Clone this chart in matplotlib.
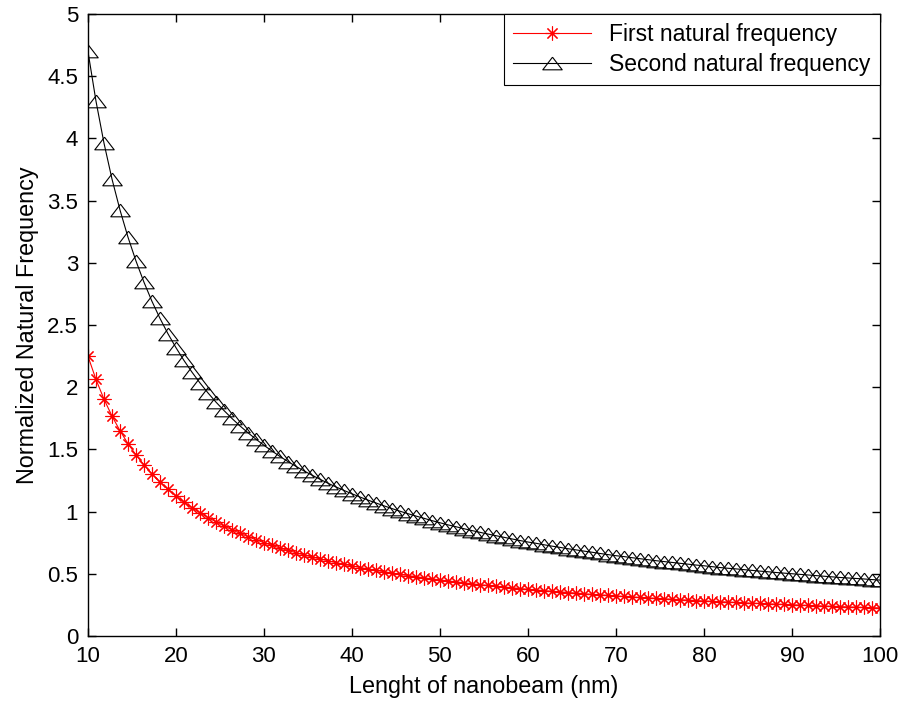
import matplotlib
matplotlib.use("Agg")
import matplotlib.pyplot as plt

plt.rcParams["font.family"] = ["Liberation Sans", "DejaVu Sans"]

# nanobeam length (nm), 100 samples between 10 and 100
length_nm = [
    10.00, 10.91, 11.82, 12.73, 13.64, 14.55, 15.45, 16.36, 17.27, 18.18, 19.09,
    20.00, 20.91, 21.82, 22.73, 23.64, 24.55, 25.45, 26.36, 27.27, 28.18, 29.09,
    30.00, 30.91, 31.82, 32.73, 33.64, 34.55, 35.45, 36.36, 37.27, 38.18, 39.09,
    40.00, 40.91, 41.82, 42.73, 43.64, 44.55, 45.45, 46.36, 47.27, 48.18, 49.09,
    50.00, 50.91, 51.82, 52.73, 53.64, 54.55, 55.45, 56.36, 57.27, 58.18, 59.09,
    60.00, 60.91, 61.82, 62.73, 63.64, 64.55, 65.45, 66.36, 67.27, 68.18, 69.09,
    70.00, 70.91, 71.82, 72.73, 73.64, 74.55, 75.45, 76.36, 77.27, 78.18, 79.09,
    80.00, 80.91, 81.82, 82.73, 83.64, 84.55, 85.45, 86.36, 87.27, 88.18, 89.09,
    90.00, 90.91, 91.82, 92.73, 93.64, 94.55, 95.45, 96.36, 97.27, 98.18, 99.09,
    100.00,
]

first_freq = [
    2.250, 2.062, 1.904, 1.768, 1.650, 1.546, 1.456, 1.375, 1.303, 1.238, 1.179,
    1.125, 1.076, 1.031, 0.990, 0.952, 0.917, 0.884, 0.854, 0.825, 0.798, 0.773,
    0.750, 0.728, 0.707, 0.687, 0.669, 0.651, 0.635, 0.619, 0.604, 0.589, 0.576,
    0.563, 0.550, 0.538, 0.527, 0.516, 0.505, 0.495, 0.485, 0.476, 0.467, 0.458,
    0.450, 0.442, 0.434, 0.427, 0.419, 0.412, 0.406, 0.399, 0.393, 0.387, 0.381,
    0.375, 0.369, 0.364, 0.359, 0.354, 0.349, 0.344, 0.339, 0.334, 0.330, 0.326,
    0.321, 0.317, 0.313, 0.309, 0.306, 0.302, 0.298, 0.295, 0.291, 0.288, 0.284,
    0.281, 0.278, 0.275, 0.272, 0.269, 0.266, 0.263, 0.261, 0.258, 0.255, 0.253,
    0.250, 0.248, 0.245, 0.243, 0.240, 0.238, 0.236, 0.233, 0.231, 0.229, 0.227,
    0.225,
]

second_freq = [
    4.700, 4.301, 3.963, 3.674, 3.425, 3.206, 3.016, 2.845, 2.691, 2.554, 2.430,
    2.318, 2.215, 2.121, 2.034, 1.954, 1.880, 1.813, 1.749, 1.689, 1.634, 1.582,
    1.533, 1.487, 1.443, 1.402, 1.363, 1.327, 1.293, 1.260, 1.228, 1.198, 1.170,
    1.143, 1.117, 1.092, 1.069, 1.046, 1.024, 1.003, 0.983, 0.964, 0.946, 0.927,
    0.910, 0.893, 0.878, 0.862, 0.847, 0.833, 0.819, 0.806, 0.793, 0.780, 0.767,
    0.755, 0.745, 0.733, 0.722, 0.712, 0.701, 0.692, 0.682, 0.673, 0.663, 0.654,
    0.645, 0.638, 0.629, 0.621, 0.613, 0.605, 0.598, 0.591, 0.584, 0.577, 0.570,
    0.564, 0.557, 0.550, 0.544, 0.539, 0.533, 0.527, 0.521, 0.516, 0.510, 0.505,
    0.500, 0.495, 0.490, 0.485, 0.480, 0.475, 0.470, 0.466, 0.462, 0.458, 0.453,
    0.449,
]

x_ticks = [10, 20, 30, 40, 50, 60, 70, 80, 90, 100]
y_ticks = [0, 0.5, 1, 1.5, 2, 2.5, 3, 3.5, 4, 4.5, 5]
y_tick_labels = ["0", "0.5", "1", "1.5", "2", "2.5", "3", "3.5", "4", "4.5", "5"]

# MATLAB-ish flat open triangle
tri = [(0, 0.65), (-1, -0.65), (1, -0.65), (0, 0.65)]

fig = plt.figure(figsize=(9.04, 7.05), dpi=100)
ax = fig.add_axes([0.0973, 0.098, 0.876, 0.882])

ax.plot(length_nm, first_freq, color="red", lw=0.8, marker=(8, 2, 0),
        ms=10, mew=0.8, label="First natural frequency")
ax.plot(length_nm, second_freq, color="black", lw=0.8, marker=tri,
        ms=14, mfc="none", mec="black", mew=0.8, label="Second natural frequency")

ax.set_xlim(10, 100)
ax.set_ylim(0, 5)
ax.set_xticks(x_ticks)
ax.set_yticks(y_ticks)
ax.set_yticklabels(y_tick_labels)
ax.tick_params(direction="in", length=6, width=1, top=True, right=True,
               labelsize=16, pad=7)
for s in ax.spines.values():
    s.set_linewidth(1.0)

ax.set_xlabel("Lenght of nanobeam (nm)", fontsize=16.8, labelpad=6)
ax.set_ylabel("Normalized Natural Frequency", fontsize=16.8, labelpad=6)

leg = ax.legend(loc="upper right", borderaxespad=0, fontsize=16.5,
                fancybox=False, edgecolor="black", framealpha=1,
                handlelength=3.4, handletextpad=0.8, borderpad=0.4,
                labelspacing=0.3)
leg.get_frame().set_linewidth(0.8)

fig.savefig("out.png", dpi=100)
